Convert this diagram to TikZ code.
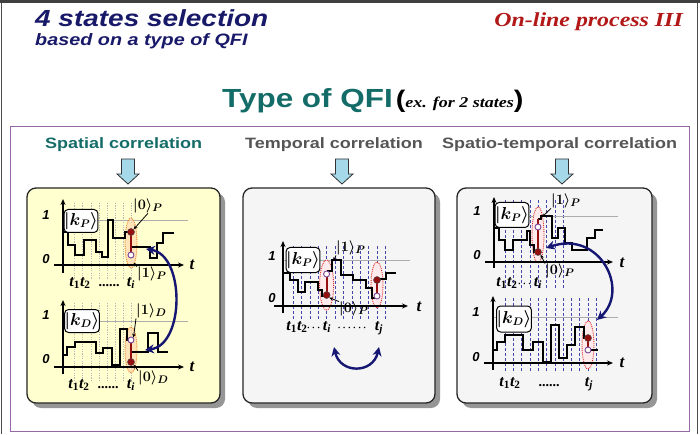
\documentclass[tikz,border=0pt]{standalone}
\usepackage{fontspec}
\usepackage{graphicx}
\setmainfont{Liberation Serif}
\setsansfont{Liberation Sans}
\usetikzlibrary{arrows.meta}
\definecolor{navyT}{RGB}{25,25,105}
\definecolor{redT}{RGB}{178,24,24}
\definecolor{tealT}{RGB}{20,108,104}
\definecolor{grayT}{RGB}{85,85,85}
\definecolor{frameP}{RGB}{150,105,165}
\definecolor{yellowP}{RGB}{255,255,208}
\definecolor{grayP}{RGB}{245,245,245}
\definecolor{shadowC}{RGB}{150,150,150}
\definecolor{arrowB}{RGB}{165,216,232}
\definecolor{navyA}{RGB}{22,22,115}
\definecolor{dashB}{RGB}{70,70,175}
\definecolor{dotR}{RGB}{150,15,15}
\definecolor{openR}{RGB}{125,70,150}
\definecolor{hlOr}{RGB}{235,130,40}
\definecolor{hlRed}{RGB}{220,40,40}
\newcommand{\hsx}[1]{\scalebox{1.2}[1]{#1}}
\newcommand{\tsub}[1]{{\bfseries\itshape t}\textsubscript{\bfseries #1}}
\begin{document}
\begin{tikzpicture}[x=1pt,y=-1pt,
  stepln/.style={line width=1.3pt, line join=miter},
  axisln/.style={line width=1.1pt, -{Stealth[length=6pt,width=5pt]}},
  lvl/.style={gray!65, line width=0.6pt},
  dotv/.style={gray!55, line width=0.9pt, dash pattern=on 1.2pt off 1.2pt},
  bluev/.style={dashB, line width=0.6pt, dash pattern=on 3pt off 2pt},
  ketbox/.style={draw, fill=white, rounded corners=4pt, line width=1pt, inner sep=0pt, minimum width=28pt, minimum height=23pt, font=\fontsize{16}{16}\selectfont\boldmath},
  fdot/.style={circle, fill=dotR, draw=black!70, line width=0.5pt, inner sep=0pt, minimum size=7pt},
  odot/.style={circle, fill=white, draw=openR, line width=0.9pt, inner sep=0pt, minimum size=6pt},
  hlo/.style={draw=hlOr, densely dotted, line width=0.9pt, fill=orange!30, fill opacity=0.7},
  hlr/.style={draw=hlRed, densely dotted, line width=0.9pt, fill=red!8},
  redv/.style={dotR, line width=2pt},
  bigarr/.style={navyA, line width=2.4pt, {Stealth[length=9pt,width=9pt]}-{Stealth[length=9pt,width=9pt]}},
  lbl/.style={font=\fontsize{15}{15}\selectfont\boldmath, inner sep=0pt},
  lblarr/.style={line width=0.8pt, -{Stealth[length=4pt,width=3.5pt]}},
  axn/.style={font=\fontsize{13}{13}\selectfont\sffamily\bfseries\itshape, inner sep=0pt},
  tn/.style={font=\fontsize{17}{17}\selectfont\bfseries\itshape, inner sep=0pt},
  tlab/.style={font=\fontsize{16}{16}\selectfont, inner sep=0pt, anchor=base},
  dlab/.style={font=\fontsize{10}{10}\selectfont\boldmath, inner sep=0pt, anchor=base},
  darr/.style={fill=arrowB, draw=gray!40!black, line width=0.8pt},
  panelbox/.style={draw=black!85, line width=1.3pt, rounded corners=9pt},
  shadowbox/.style={fill=shadowC, rounded corners=9pt}
]
\useasboundingbox (0,0) rectangle (700,435);
\fill[white] (0,0) rectangle (700,435);
% outer frame
\draw[gray!60!black, line width=1.2pt] (1.5,1) -- (1.5,434);
\draw[gray!60!black, line width=1.2pt] (697.5,1) -- (697.5,434);
\draw[gray!50!black, line width=3pt] (0,1.5) -- (700,1.5);
% titles
\node[anchor=base west, inner sep=0pt] (title) at (35,27) {\hsx{\fontsize{23.3}{24}\selectfont\sffamily\bfseries\itshape\color{navyT}4 states selection}};
\node[anchor=base west, inner sep=0pt] (subtitle) at (35,46) {\hsx{\fontsize{16.5}{17}\selectfont\sffamily\bfseries\itshape\color{navyT}based on a type of QFI}};
\node[anchor=base east, inner sep=0pt] (online) at (683,27) {\hsx{\fontsize{19.9}{20}\selectfont\rmfamily\bfseries\itshape\color{redT}On-line process III}};
\node[anchor=base west, inner sep=0pt] (typeqfi) at (222,108) {\hsx{{\fontsize{26.2}{27}\selectfont\sffamily\bfseries\color{tealT}Type of QFI} {\fontsize{24}{24}\selectfont\sffamily\bfseries(}{\fontsize{15}{15}\selectfont\rmfamily\bfseries\itshape ex. for 2 states}{\fontsize{24}{24}\selectfont\sffamily\bfseries)}}};
% purple frame
\draw[frameP, line width=0.9pt] (10,126) rectangle (689,431);
% headings
\node[anchor=base west, inner sep=0pt] (h1) at (45,149) {\hsx{\fontsize{15}{15}\selectfont\sffamily\bfseries\color{tealT}Spatial correlation}};
\node[anchor=base west, inner sep=0pt] (h2) at (245,149) {\hsx{\fontsize{15}{15}\selectfont\sffamily\bfseries\color{grayT}Temporal correlation}};
\node[anchor=base west, inner sep=0pt] (h3) at (442,149) {\hsx{\fontsize{15}{15}\selectfont\sffamily\bfseries\color{grayT}Spatio-temporal correlation}};
% down arrows
\foreach \cx in {128,342,562}
  \filldraw[darr] (\cx-6.5,159) -- (\cx+6.5,159) -- (\cx+6.5,174) -- (\cx+11,174) -- (\cx,184) -- (\cx-11,174) -- (\cx-6.5,174) -- cycle;

% ================= PANEL 1 =================
\fill[shadowbox] (32,193) rectangle (225,408);
\filldraw[panelbox, fill=yellowP] (27,188) rectangle (220,403);
% --- top plot
\foreach \x in {74,82,91,99,107,115,123,131} \draw[dotv] (\x,203) -- (\x,279);
\draw[lvl] (63,220) -- (188,220);
\filldraw[hlo] (131,243) ellipse [x radius=6, y radius=25];
\draw[axisln] (54,265) -- (184,265);
\draw[axisln] (63,273) -- (63,199);
\draw[stepln] (63,232) -- (68,232) -- (68,245) -- (75,245) -- (75,255) -- (84,255) -- (84,240) -- (96,240) -- (96,252) -- (102,252) -- (102,257) -- (108,257) -- (108,220) -- (113,220) -- (113,238) -- (125,238) -- (125,232) -- (131,232);
\draw[stepln] (131,247) -- (150,247) -- (150,258) -- (157,258) -- (157,243) -- (163,243) -- (163,233) -- (174,233);
\draw[redv] (131,232) -- (131,257);
\node[fdot] (f1) at (131,232) {};
\node[odot] (o1) at (131,255) {};
\node[ketbox] (k1) at (81,221) {$\left|k_P\right\rangle$};
\node[axn] (one1) at (46,215) {1};
\node[axn] (zero1) at (46,259) {0};
\node[tn] (tt1) at (192,265) {t};
\node[lbl, anchor=west] (l1a) at (133,206) {$|0\rangle_P$};
\draw[lblarr] (l1a.south) -- (f1.north east);
\node[lbl, anchor=west] (l1b) at (137,274) {$|1\rangle_P$};
\node[inner sep=0pt] (c1b) at (133,262) {};
\draw[lblarr] (l1b.north west) -- (c1b);
\node[tlab] (t1a) at (80,286) {\tsub{1}\tsub{2}};
\node[dlab, font=\fontsize{14}{14}\selectfont\bfseries] (t1c) at (109,286) {......};
\node[tlab] (t1d) at (131,286) {\tsub{\itshape i}};
% --- bottom plot
\foreach \x in {74,82,91,99,107,115,123,131} \draw[dotv] (\x,303) -- (\x,381);
\draw[lvl] (63,321) -- (188,321);
\filldraw[hlo] (131,350) ellipse [x radius=6, y radius=23];
\draw[axisln] (54,367) -- (184,367);
\draw[axisln] (63,374) -- (63,300);
\draw[stepln] (63,355) -- (67,355) -- (67,347) -- (75,347) -- (75,342) -- (96,342) -- (96,353) -- (103,353) -- (103,348) -- (112,348) -- (112,365) -- (120,365) -- (120,329) -- (127,329) -- (127,340) -- (131,340);
\draw[stepln] (131,352) -- (148,352) -- (148,333) -- (158,333) -- (158,352) -- (168,352);
\draw[redv] (131,340) -- (131,362);
\node[odot] (o2) at (131,340) {};
\node[fdot] (f2) at (131,362) {};
\node[ketbox, minimum width=30pt] (k2) at (82,321) {$\left|k_D\right\rangle$};
\node[axn] (one2) at (46,315) {1};
\node[axn] (zero2) at (46,359) {0};
\node[tn] (tt2) at (192,367) {t};
\node[lbl, anchor=west] (l2a) at (136,311) {$|1\rangle_D$};
\draw[lblarr] (l2a.south west) -- (o2.north east);
\node[lbl, anchor=west] (l2b) at (138,378) {$|0\rangle_D$};
\draw[lblarr] (l2b.north west) -- (f2.south east);
\node[tlab] (t2a) at (79,388) {\tsub{1}\tsub{2}};
\node[dlab, font=\fontsize{14}{14}\selectfont\bfseries] (t2c) at (108,388) {......};
\node[tlab] (t2d) at (131,388) {\tsub{\itshape i}};
% big arrow
\coordinate (ba1s) at (146,249);
\coordinate (ba1e) at (145,350);
\draw[bigarr] (ba1s) .. controls (185,255) and (185,345) .. (ba1e);

% ================= PANEL 2 =================
\fill[shadowbox] (248,193) rectangle (440,408);
\filldraw[panelbox, fill=grayP] (243,188) rectangle (435,403);
\foreach \i in {0,...,11} \draw[bluev] (293+8.4*\i,246) -- (293+8.4*\i,320);
\draw[lvl] (283,260) -- (410,260);
\filldraw[hlr] (326.6,285) ellipse [x radius=7, y radius=25];
\filldraw[hlr] (377,285) ellipse [x radius=6, y radius=23];
\draw[axisln] (274,306) -- (408,306);
\draw[axisln] (283,313) -- (283,241);
\draw[stepln] (283,273) -- (290,273) -- (290,280) -- (298,280) -- (298,292) -- (305,292) -- (305,282) -- (318,282) -- (318,290) -- (322,290) -- (322,296) -- (326.6,296);
\draw[stepln] (326.6,271) -- (332,271) -- (332,260) -- (341,260) -- (341,275) -- (353,275) -- (353,280) -- (366,280) -- (366,288) -- (372,288) -- (372,298) -- (377,298);
\draw[stepln] (377,279) -- (386,279) -- (386,273) -- (396,273);
\draw[redv] (326.6,296) -- (326.6,271);
\draw[redv] (377,298) -- (377,279);
\node[odot] (o3) at (326.6,274) {};
\node[fdot] (f3) at (326.6,295) {};
\node[fdot] (f4) at (377,280) {};
\node[odot] (o4) at (377,296) {};
\node[ketbox, minimum width=30pt, minimum height=25pt] (k3) at (303,260) {$\left|k_P\right\rangle$};
\node[axn] (one3) at (272,256) {1};
\node[axn] (zero3) at (272,298) {0};
\node[tn] (tt3) at (419,307) {t};
\node[lbl, anchor=west] (l3a) at (336,248) {$|1\rangle_P$};
\node[inner sep=0pt] (c3a) at (333,262) {};
\draw[lblarr] (l3a.south west) -- (c3a);
\node[lbl, anchor=west] (l3b) at (339,309) {$|0\rangle_P$};
\draw[lblarr] (l3b.north west) -- (f3.south east);
\node[tlab] (t3a) at (297,330) {\tsub{1}\tsub{2}};
\node[dlab] (t3c) at (313.5,330) {$\cdots$};
\node[tlab] (t3d) at (327,330) {\tsub{\itshape i}};
\node[dlab] (t3e) at (352,330) {$\cdots\cdots$};
\node[tlab] (t3f) at (379,330) {\tsub{\itshape j}};
\coordinate (ba2s) at (334,347);
\coordinate (ba2e) at (379,347);
\draw[bigarr] (ba2s) .. controls (340,374) and (373,374) .. (ba2e);

% ================= PANEL 3 =================
\fill[shadowbox] (462,193) rectangle (657,408);
\filldraw[panelbox, fill=grayP] (457,188) rectangle (652,403);
% --- top plot
\foreach \i in {0,...,7} \draw[bluev] (505+8.3*\i,200) -- (505+8.3*\i,288);
\draw[lvl] (494,216) -- (618,216);
\filldraw[hlr] (538,235) ellipse [x radius=6, y radius=28];
\draw[axisln] (485,262) -- (613,262);
\draw[axisln] (494,268) -- (494,197);
\draw[stepln] (494,228) -- (499,228) -- (499,240) -- (505,240) -- (505,250) -- (513,250) -- (513,240) -- (527,240) -- (527,231) -- (530,231) -- (530,245) -- (534,245) -- (534,252) -- (538,252);
\draw[stepln] (538,219) -- (541,219) -- (541,216) -- (552,216) -- (552,238) -- (558,238) -- (558,228) -- (565,228) -- (565,243) -- (572,243) -- (572,250) -- (587,250) -- (587,238) -- (595,238) -- (595,230) -- (603,230);
\draw[redv] (538,252) -- (538,219);
\node[odot] (o5) at (538,227) {};
\node[fdot] (f5) at (538,252) {};
\node[ketbox, minimum height=25pt] (k5) at (512,215) {$\left|k_P\right\rangle$};
\node[axn] (one5) at (477,211) {1};
\node[axn] (zero5) at (477,255) {0};
\node[tn] (tt5) at (622,263) {t};
\node[lbl, anchor=west] (l5a) at (551,201) {$|1\rangle_P$};
\node[inner sep=0pt] (c5a) at (541,218) {};
\draw[lblarr] (l5a.south west) -- (c5a);
\node[lbl, anchor=west] (l5b) at (545,271) {$|0\rangle_P$};
\draw[lblarr] (l5b.north west) -- (f5.south east);
\node[tlab] (t5a) at (507,286) {\tsub{1}\tsub{2}};
\node[dlab] (t5c) at (524.5,286) {$\cdots$};
\node[tlab] (t5d) at (538,286) {\tsub{\itshape i}};
% --- bottom plot
\foreach \i in {0,...,11} \draw[bluev] (505+8.3*\i,298) -- (505+8.3*\i,372);
\draw[lvl] (493,317) -- (618,317);
\filldraw[hlr] (588,345) ellipse [x radius=6, y radius=24];
\draw[axisln] (484,363) -- (613,363);
\draw[axisln] (493,370) -- (493,296);
\draw[stepln] (493,350) -- (497,350) -- (497,342) -- (505,342) -- (505,335) -- (523,335) -- (523,350) -- (533,350) -- (533,342) -- (543,342) -- (543,362) -- (551,362) -- (551,325) -- (559,325) -- (559,358) -- (567,358) -- (567,345) -- (575,345) -- (575,327) -- (584,327) -- (584,338) -- (588,338);
\draw[stepln] (588,350) -- (598,350);
\draw[redv] (588,338) -- (588,350);
\node[fdot] (f6) at (588,338) {};
\node[odot] (o6) at (588,350) {};
\node[ketbox, minimum width=32pt, minimum height=26pt] (k6) at (514,319) {$\left|k_D\right\rangle$};
\node[axn] (one6) at (476,312) {1};
\node[axn] (zero6) at (476,357) {0};
\node[tn] (tt6) at (622,363) {t};
\node[tlab] (t6a) at (510,386) {\tsub{1}\tsub{2}};
\node[dlab, font=\fontsize{14}{14}\selectfont\bfseries] (t6c) at (549,386) {......};
\node[tlab] (t6d) at (589,386) {\tsub{\itshape j}};
\coordinate (ba3s) at (546,248);
\coordinate (ba3e) at (597,320);
\draw[bigarr] (ba3s) .. controls (600,230) and (630,290) .. (ba3e);
\end{tikzpicture}
\end{document}
